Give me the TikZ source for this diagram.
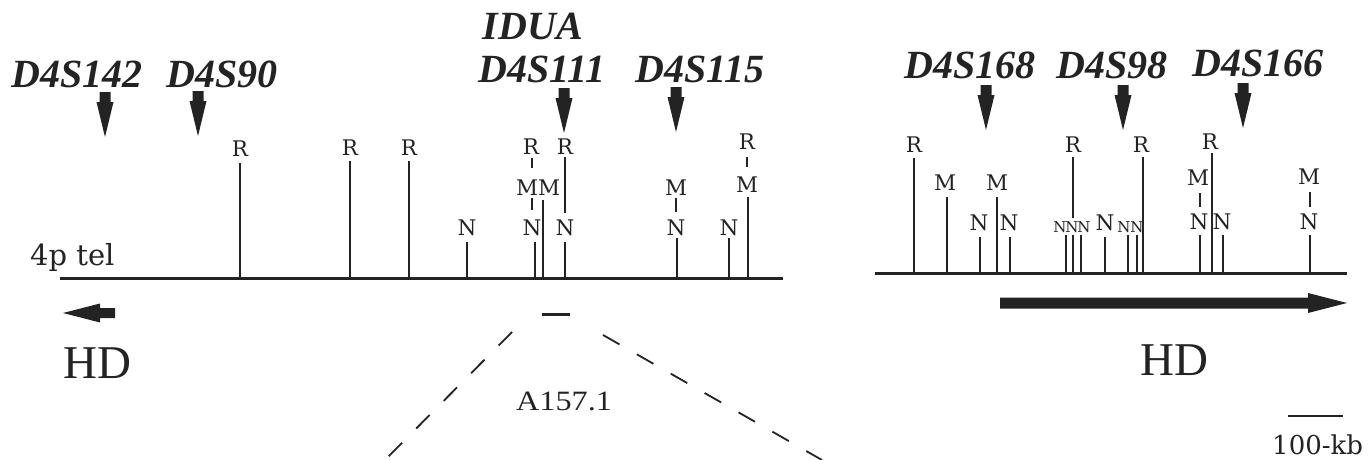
\documentclass[tikz,border=0pt]{standalone}
\usepackage{fontspec}
\setmainfont{Liberation Serif}
\newfontfamily\dvs{DejaVu Serif}
\newfontfamily\lsw[FakeStretch=1.15]{Liberation Serif}
\definecolor{ink}{RGB}{35,35,35}
\tikzset{
  mk/.style={font=\fontsize{40}{40}\selectfont\bfseries\itshape, text=ink, anchor=base, inner sep=0pt},
  site/.style={font=\dvs\fontsize{21.5}{21.5}\selectfont, text=ink, inner sep=0pt},
  ssite/.style={font=\dvs\fontsize{15}{15}\selectfont, text=ink, inner sep=0pt},
  tickln/.style={draw=ink, line width=1.5pt},
  chrom/.style={draw=ink, line width=3pt},
  dashln/.style={draw=ink, line width=1.8pt, dash pattern=on 19pt off 20pt},
  bigtxt/.style={font=\fontsize{47}{47}\selectfont, text=ink, anchor=base west, inner sep=0pt},
  mkarrow/.pic={\fill[ink] (-5.5,0) -- (5.5,0) -- (5.5,10) -- (8.5,10) -- (0,45) -- (-8.5,10) -- (-5.5,10) -- cycle;}
}
\begin{document}
\begin{tikzpicture}[x=1pt,y=-1pt]
\useasboundingbox (0,0) rectangle (1370,460);

% marker labels
\node[mk] (m142) at (77,88) {D4S142};
\node[mk] (m90) at (222,88) {D4S90};
\node[mk] (idua) at (533,40) {IDUA};
\node[mk] (m111) at (542,82) {D4S111};
\node[mk] (m115) at (700,82) {D4S115};
\node[mk] (m168) at (970,78) {D4S168};
\node[mk] (m98) at (1112,78) {D4S98};
\node[mk] (m166) at (1258,76) {D4S166};

% marker arrows
\pic at (105,92) {mkarrow};
\pic at (198,91) {mkarrow};
\pic at (564,88) {mkarrow};
\pic at (676,87) {mkarrow};
\pic at (986,85) {mkarrow};
\pic at (1123,85) {mkarrow};
\pic at (1243,83) {mkarrow};

% left map line
\draw[chrom] (60,278) -- (783,278);
\node[font=\dvs\fontsize{29}{29}\selectfont, text=ink, anchor=base west, inner sep=0pt] (tel) at (30,265) {4p tel};

% left sites
\node[site] (lr1) at (240,149) {R};  \draw[tickln] (240,163) -- (240,278);
\node[site] (lr2) at (350,148) {R};  \draw[tickln] (350,161) -- (350,278);
\node[site] (lr3) at (409,148) {R};  \draw[tickln] (409,161) -- (409,278);
\node[site] (ln1) at (467,228) {N};  \draw[tickln] (467,242) -- (467,278);
\node[site] (lr4) at (531,147) {R};  \draw[tickln] (532,158) -- (532,168);
\node[site] (lm1) at (527,188) {M};  \draw[tickln] (532,198) -- (532,210);
\node[site] (ln2) at (532,228) {N};  \draw[tickln] (535,242) -- (535,278);
\node[site] (lm2) at (549,188) {M};  \draw[tickln] (543,200) -- (543,278);
\node[site] (lr5) at (565,147) {R};  \draw[tickln] (565,157) -- (565,213);
\node[site] (ln3) at (565,228) {N};  \draw[tickln] (565,242) -- (565,278);
\node[site] (lm3) at (676,188) {M};  \draw[tickln] (676,198) -- (676,212);
\node[site] (ln4) at (676,228) {N};  \draw[tickln] (677,238) -- (677,278);
\node[site] (ln5) at (729,228) {N};  \draw[tickln] (729,238) -- (729,278);
\node[site] (lr6) at (747,142) {R};  \draw[tickln] (747,157) -- (747,167);
\node[site] (lm4) at (747,185) {M};  \draw[tickln] (748,197) -- (748,278);

% right map line
\draw[chrom] (875,273) -- (1347,273);

% right sites
\node[site] (rr1) at (914,145) {R};  \draw[tickln] (914,158) -- (914,273);
\node[site] (rm1) at (945,183) {M};  \draw[tickln] (947,197) -- (947,273);
\node[site] (rn1) at (979,223) {N};  \draw[tickln] (980,237) -- (980,273);
\node[site] (rm2) at (997,183) {M};  \draw[tickln] (997,197) -- (997,273);
\node[site] (rn2) at (1009,223) {N}; \draw[tickln] (1010,237) -- (1010,273);
\node[ssite] (rs1) at (1060,227) {N}; \draw[tickln] (1066,235) -- (1066,273);
\node[site] (rr2) at (1073,145) {R}; \draw[tickln] (1073,157) -- (1073,218);
\node[ssite] (rs2) at (1072,227) {N}; \draw[tickln] (1073,235) -- (1073,273);
\node[ssite] (rs3) at (1084,227) {N}; \draw[tickln] (1081,235) -- (1081,273);
\node[site] (rn3) at (1105,223) {N}; \draw[tickln] (1105,237) -- (1105,273);
\node[ssite] (rs4) at (1124,227) {N}; \draw[tickln] (1128,235) -- (1128,273);
\node[ssite] (rs5) at (1137,227) {N}; \draw[tickln] (1137,235) -- (1137,273);
\node[site] (rr3) at (1141,145) {R}; \draw[tickln] (1143,157) -- (1143,273);
\node[site] (rm3) at (1198,178) {M}; \draw[tickln] (1200,193) -- (1200,207);
\node[site] (rn4) at (1199,222) {N}; \draw[tickln] (1200,235) -- (1200,273);
\node[site] (rr4) at (1210,142) {R}; \draw[tickln] (1212,153) -- (1212,273);
\node[site] (rn5) at (1222,222) {N}; \draw[tickln] (1223,235) -- (1223,273);
\node[site] (rm4) at (1309,177) {M}; \draw[tickln] (1310,192) -- (1310,207);
\node[site] (rn6) at (1309,222) {N}; \draw[tickln] (1310,235) -- (1310,273);

% HD direction arrows
\fill[ink] (63,313) -- (100,303.5) -- (100,308) -- (115,308) -- (115,318) -- (100,318) -- (100,322.5) -- cycle;
\fill[ink] (1000,297.5) -- (1308,297.5) -- (1308,293) -- (1347,303) -- (1308,313) -- (1308,308.5) -- (1000,308.5) -- cycle;
\node[bigtxt] (hdl) at (63,378) {HD};
\node[bigtxt] (hdr) at (1140,375) {HD};

% cosmid A157.1 and expansion
\coordinate (cosL) at (542,314);
\coordinate (cosR) at (570,314);
\draw[ink, line width=3pt] (cosL) -- (cosR);
\coordinate (dl1) at (512,332);
\coordinate (dl2) at (385,460);
\coordinate (dr1) at (603,335);
\coordinate (dr2) at (822,460);
\draw[dashln] (dl1) -- (dl2);
\draw[dashln] (dr1) -- (dr2);
\node[font=\lsw\fontsize{28}{28}\selectfont, text=ink, anchor=base west, inner sep=0pt] (a157) at (516,410) {A157.1};

% scale bar
\coordinate (sb1) at (1288,416);
\coordinate (sb2) at (1343,416);
\draw[ink, line width=2pt] (sb1) -- (sb2);
\node[font=\dvs\fontsize{26}{26}\selectfont, text=ink, anchor=base west, inner sep=0pt] (kb) at (1272,454) {100-kb};
\end{tikzpicture}
\end{document}
